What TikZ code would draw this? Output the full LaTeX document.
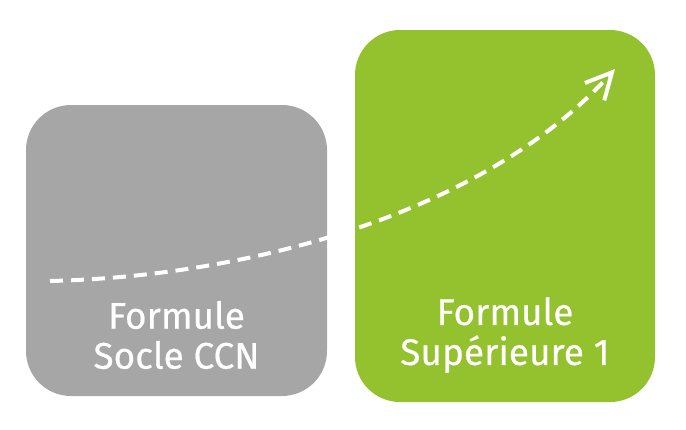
\documentclass[tikz,border=0pt]{standalone}
\usepackage{fontspec}
\setmainfont{Fira Sans}[FakeBold=0.5]
\usetikzlibrary{arrows.meta}
\definecolor{boxgray}{HTML}{A6A6A6}
\definecolor{boxgreen}{HTML}{94C12E}
\tikzset{
  card/.style={rounded corners=45pt, draw=none},
  cardtext/.style={text=white, align=center, font=\fontsize{37}{40}\selectfont},
  trend/.style={white, line width=4pt, dash pattern=on 13pt off 8pt,
    -{Straight Barb[length=26pt,width=26pt,line width=4pt]}}
}
\begin{document}
\begin{tikzpicture}[x=1pt,y=-1pt]
\useasboundingbox (0,0) rectangle (686,429);
\fill[card, boxgray] (26,105) rectangle (327,396);
\fill[card, boxgreen] (355,30) rectangle (655,402);
\node[cardtext] (a) at (176.5,335) {Formule\\Socle CCN};
\node[cardtext] (b) at (505,335) {Formule\\Supérieure 1};
\coordinate (s) at (50,281);
\coordinate (e) at (615,69);
\draw[trend] (s) .. controls (260,276) and (490,208) .. (e);
\end{tikzpicture}
\end{document}
